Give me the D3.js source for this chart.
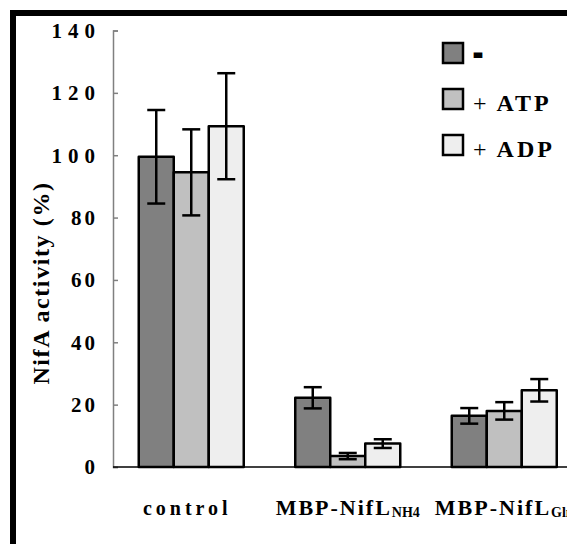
<!DOCTYPE html>
<html>
<head>
<meta charset="utf-8">
<script src="https://cdn.jsdelivr.net/npm/d3@7"></script>
<style>
  html, body { margin: 0; padding: 0; background: #fff; overflow: hidden; }
  text { font-family: "Liberation Serif", "Times New Roman", Times, serif; }
</style>
</head>
<body>
<svg id="chart" width="567" height="544"></svg>
<script>
// NifA activity under three nucleotide conditions
const groups = ["control", "MBP-NifL_NH4", "MBP-NifL_Gln"];
const groupMain = ["control", "MBP-NifL", "MBP-NifL"];
const groupSub = ["", "NH4", "Gln"];
const series = ["-", "+ ATP", "+ ADP"];
const seriesColors = ["#808080", "#c0c0c0", "#eeeeee"];
const valuesMinus = [99.5, 22.2, 16.4];
const valuesATP = [94.5, 3.5, 18.0];
const valuesADP = [109.3, 7.5, 24.6];
const errMinus = [15.0, 3.4, 2.5];
const errATP = [13.8, 1.0, 2.8];
const errADP = [17.0, 1.4, 3.6];
const yTicks = [0, 20, 40, 60, 80, 100, 120, 140];

const FONT = "'Liberation Serif', 'Times New Roman', serif";

const values = [valuesMinus, valuesATP, valuesADP];
const errors = [errMinus, errATP, errADP];
const rows = [];
groups.forEach((g, gi) => series.forEach((s, si) =>
  rows.push({ group: g, series: s, si, value: values[si][gi], err: errors[si][gi] })));

const svg = d3.select("#chart");

// outer frame (only the top and left edges fall inside the view)
svg.append("rect")
  .attr("x", 13).attr("y", 13)
  .attr("width", 700).attr("height", 700)
  .attr("fill", "none").attr("stroke", "#000").attr("stroke-width", 6);

const x0 = d3.scaleBand().domain(groups).range([113, 582.5]).paddingInner(0).paddingOuter(0);
const groupWidth = 105;
const x1 = d3.scaleBand().domain(series).range([0, groupWidth]).padding(0);
const y = d3.scaleLinear().domain([0, 140]).range([467, 30.5]);

// y axis
const yAxis = svg.append("g").attr("transform", "translate(113,0)")
  .call(d3.axisRight(y).tickValues(yTicks).tickSize(5).tickFormat(""));
yAxis.select(".domain").attr("stroke", "#808080").attr("stroke-width", 1.5);
yAxis.selectAll(".tick line").attr("stroke", "#808080").attr("stroke-width", 1.5);

svg.append("g").selectAll("text").data(yTicks).join("text")
  .attr("font-family", FONT)
  .attr("x", d => String(d).length >= 3 ? 101 : 98).attr("y", d => y(d)).attr("dy", "0.35em")
  .attr("text-anchor", "end")
  .attr("font-size", 21).attr("font-weight", "bold")
  .attr("letter-spacing", d => String(d).length >= 3 ? 6 : 3)
  .text(d => d);

// y axis title
svg.append("text")
  .attr("font-family", FONT)
  .attr("transform", "translate(49,283) rotate(-90)")
  .attr("text-anchor", "middle")
  .attr("font-size", 24).attr("font-weight", "bold")
  .attr("letter-spacing", 1.6)
  .text("NifA activity (%)");

// bars
const barsG = svg.append("g");
const gx = g => x0(g) + (x0.bandwidth() - groupWidth) / 2;

barsG.selectAll("rect").data(rows).join("rect")
  .attr("x", d => gx(d.group) + x1(d.series))
  .attr("y", d => y(d.value))
  .attr("width", x1.bandwidth())
  .attr("height", d => y(0) - y(d.value))
  .attr("fill", d => seriesColors[d.si])
  .attr("stroke", "#000").attr("stroke-width", 2.5)
  .attr("stroke-linejoin", "round");

// x axis line
svg.append("line")
  .attr("x1", 113).attr("x2", 567).attr("y1", y(0)).attr("y2", y(0))
  .attr("stroke", "#000").attr("stroke-width", 1.5);

// error bars
const errG = svg.append("g").attr("stroke", "#000").attr("stroke-width", 2.5);
const cx = d => gx(d.group) + x1(d.series) + x1.bandwidth() / 2;
const capHalf = 9;
errG.selectAll("line.v").data(rows).join("line").attr("class", "v")
  .attr("x1", cx).attr("x2", cx)
  .attr("y1", d => y(d.value + d.err)).attr("y2", d => y(d.value - d.err));
errG.selectAll("line.t").data(rows).join("line").attr("class", "t")
  .attr("x1", d => cx(d) - capHalf).attr("x2", d => cx(d) + capHalf)
  .attr("y1", d => y(d.value + d.err)).attr("y2", d => y(d.value + d.err));
errG.selectAll("line.b").data(rows).join("line").attr("class", "b")
  .attr("x1", d => cx(d) - capHalf).attr("x2", d => cx(d) + capHalf)
  .attr("y1", d => y(d.value - d.err)).attr("y2", d => y(d.value - d.err));

// group labels
const lab = svg.append("g").selectAll("text").data(groups).join("text")
  .attr("font-family", FONT)
  .attr("x", d => x0(d) + x0.bandwidth() / 2)
  .attr("y", 515)
  .attr("text-anchor", "middle")
  .attr("font-weight", "bold");
lab.each(function (d, i) {
  const t = d3.select(this);
  if (i === 0) {
    t.attr("font-size", 20).attr("letter-spacing", 4).attr("dx", -4).text(groupMain[i]);
  } else {
    t.attr("font-size", 22).attr("letter-spacing", 2);
    t.append("tspan").text(groupMain[i]);
    t.append("tspan").attr("font-size", 14).attr("letter-spacing", 0).attr("dy", 2).text(groupSub[i]);
  }
});

// legend
const legend = svg.append("g");
series.forEach((s, i) => {
  const ly = 53 + i * 46;
  legend.append("rect")
    .attr("x", 443).attr("y", ly - 10).attr("width", 20).attr("height", 20)
    .attr("fill", seriesColors[i]).attr("stroke", "#000").attr("stroke-width", 2.5);
  const t = legend.append("text").attr("font-family", FONT)
    .attr("x", 473).attr("y", ly + 12).attr("font-size", 24);
  if (s === "-") {
    // heavy dash
    t.attr("font-weight", "bold").attr("font-size", 18)
      .attr("x", 475).attr("y", ly + 7)
      .attr("stroke", "#000").attr("stroke-width", 4)
      .text("-");
  } else {
    t.append("tspan").text("+");
    t.append("tspan").attr("dx", 10).attr("font-weight", "bold").attr("letter-spacing", 3)
      .text(s.replace("+ ", ""));
  }
});
</script>
</body>
</html>
